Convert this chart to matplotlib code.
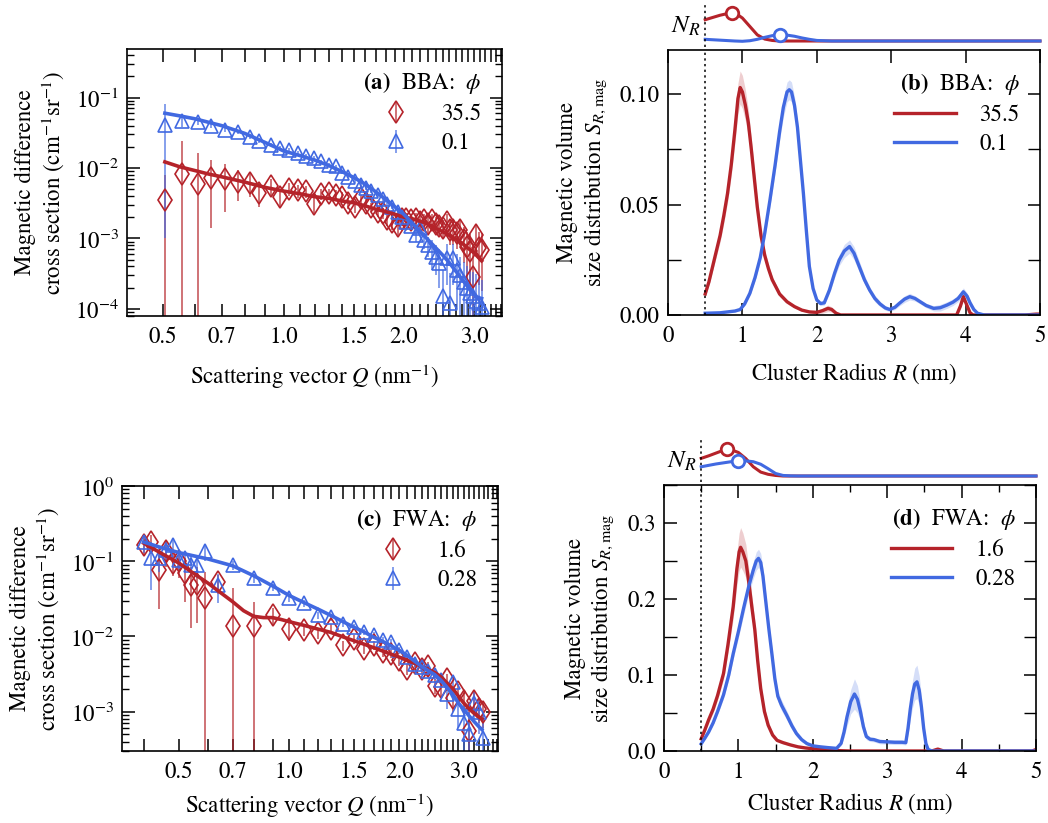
import numpy as np
import matplotlib
matplotlib.use('Agg')
import matplotlib.pyplot as plt
from matplotlib.ticker import FixedLocator, FuncFormatter, NullLocator, NullFormatter, LogLocator, MultipleLocator

plt.rcParams.update({
    'font.family': 'STIXGeneral',
    'mathtext.fontset': 'stix',
    'font.size': 16.5,
    'axes.linewidth': 1.2,
    'xtick.direction': 'in', 'ytick.direction': 'in',
    'xtick.top': True, 'ytick.right': True,
    'xtick.major.size': 9, 'ytick.major.size': 9,
    'xtick.minor.size': 5, 'ytick.minor.size': 5,
    'xtick.major.width': 1.1, 'ytick.major.width': 1.1,
    'xtick.minor.width': 1.0, 'ytick.minor.width': 1.0,
    'xtick.major.pad': 8, 'ytick.major.pad': 6,
})
RED = '#b5232a'
BLUE = '#4169e1'

# ---------------- panel (a): BBA scattering ----------------
Q_a = [0.505, 0.558, 0.610, 0.660, 0.714, 0.770, 0.825, 0.870, 0.930, 0.980,
       1.03, 1.09, 1.14, 1.19, 1.24, 1.30, 1.35, 1.40, 1.45, 1.51,
       1.56, 1.61, 1.66, 1.72, 1.77, 1.82, 1.87, 1.93, 1.98, 2.03,
       2.09, 2.14, 2.19, 2.24, 2.30, 2.35, 2.40, 2.45, 2.51, 2.56,
       2.61, 2.66, 2.72, 2.77, 2.82, 2.87, 2.93, 2.98, 3.03, 3.08, 3.13]
I_a_blue = [0.041, 0.046, 0.045, 0.040, 0.035, 0.032, 0.028, 0.024, 0.0215, 0.0195,
            0.018, 0.0165, 0.015, 0.014, 0.0125, 0.0112, 0.0105, 0.0086, 0.0075, 0.0066,
            0.0058, 0.0052, 0.0047, 0.0042, 0.0036, 0.0031, 0.0028, 0.0024, 0.0020, 0.0017,
            0.0015, 0.0011, 0.0014, 0.00095, 0.0008, 0.00065, 0.00055, 0.00045, 0.00015, 0.00052,
            0.00012, 0.00052, 0.00035, 0.0003, 0.00024, 0.0002, 0.00017, 0.00015, 0.00013, 0.00012, 0.000105]
E_a_blue = [0.040, 0.008, 0.004, 0.003, 0.0025, 0.002, 0.0018, 0.0015, 0.0013, 0.0012,
            0.0011, 0.001, 0.0009, 0.0008, 0.0007, 0.0006, 0.0006, 0.0005, 0.0004, 0.0004,
            0.00035, 0.0003, 0.0003, 0.00028, 0.00025, 0.00022, 0.0002, 0.0002, 0.00018, 0.00018,
            0.0002, 0.0002, 0.00025, 0.00025, 0.00025, 0.0003, 0.00025, 0.00025, 0.0002, 0.0003,
            0.0002, 0.0003, 0.00025, 0.00025, 0.00022, 0.0002, 0.0002, 0.00018, 0.00018, 0.00016, 0.00015]
I_a_red = [0.0035, 0.0082, 0.0059, 0.0072, 0.0069, 0.0064, 0.0062, 0.0044, 0.0055, 0.0039,
           0.0051, 0.0048, 0.0047, 0.0031, 0.0043, 0.0044, 0.0042, 0.0039, 0.0032, 0.0028,
           0.0037, 0.0032, 0.0028, 0.0024, 0.0023, 0.0019, 0.0017, 0.0015, 0.0019, 0.0019,
           0.0018, 0.0019, 0.0017, 0.0018, 0.0016, 0.0018, 0.0016, 0.0015, 0.0014, 0.0017,
           0.0013, 0.0013, 0.0012, 0.0013, 0.00095, 0.00075, 0.00066, 0.00028, 0.0011, 0.00072, 0.00068]
E_a_red = [0.0045, 0.0156, 0.0104, 0.0058, 0.0045, 0.003, 0.0023, 0.0016, 0.0014, 0.0012,
           0.0011, 0.001, 0.0009, 0.0008, 0.0008, 0.0007, 0.0007, 0.0006, 0.0006, 0.0005,
           0.0005, 0.0005, 0.0004, 0.0004, 0.0004, 0.0004, 0.0004, 0.0004, 0.0004, 0.0004,
           0.0004, 0.0004, 0.0004, 0.0004, 0.0004, 0.0004, 0.0004, 0.0004, 0.0004, 0.0005,
           0.0005, 0.0005, 0.0005, 0.0005, 0.0005, 0.0005, 0.0005, 0.0004, 0.0005, 0.0005, 0.0005]
Qfit_a_blue = [0.505, 0.55, 0.6, 0.7, 0.8, 0.9, 1.0, 1.1, 1.2, 1.3, 1.4, 1.5, 1.6, 1.7, 1.8,
               1.9, 2.0, 2.1, 2.2, 2.3, 2.4, 2.5, 2.6, 2.7, 2.8, 2.9, 3.0, 3.05, 3.13]
Ifit_a_blue = [0.060, 0.055, 0.050, 0.040, 0.031, 0.023, 0.0175, 0.0150, 0.0129, 0.0108, 0.0089,
               0.0073, 0.0059, 0.0046, 0.0036, 0.0028, 0.0022, 0.00165, 0.00125, 0.00095, 0.00074,
               0.00058, 0.00045, 0.00034, 0.00026, 0.0002, 0.00016, 0.000145, 0.00014]
Qfit_a_red = [0.505, 0.55, 0.6, 0.65, 0.7, 0.8, 0.9, 1.0, 1.1, 1.2, 1.3, 1.4, 1.5, 1.6, 1.7,
              1.8, 1.9, 2.0, 2.1, 2.2, 2.3, 2.4, 2.5, 2.6, 2.7, 2.8, 2.9, 3.0, 3.13]
Ifit_a_red = [0.0122, 0.0104, 0.0092, 0.0082, 0.0075, 0.0063, 0.0053, 0.0047, 0.0043, 0.0039,
              0.0037, 0.0034, 0.0032, 0.0029, 0.0026, 0.0024, 0.0022, 0.0020, 0.0019, 0.00175,
              0.0016, 0.0014, 0.00125, 0.0011, 0.00098, 0.00085, 0.00072, 0.00062, 0.00048]

# ---------------- panel (c): FWA scattering ----------------
Q_c = [0.40, 0.42, 0.44, 0.46, 0.48, 0.50, 0.52, 0.54, 0.56, 0.59,
       0.64, 0.70, 0.80, 0.90, 1.00,
       1.10, 1.20, 1.30, 1.40, 1.50, 1.60, 1.70, 1.80, 1.90, 2.00,
       2.10, 2.20, 2.30, 2.40, 2.50, 2.60, 2.70, 2.80, 2.90, 3.00,
       3.10, 3.20, 3.30, 3.38]
I_c_blue = [0.18, 0.112, 0.112, 0.142, 0.166, 0.104, 0.11, 0.089, 0.09, 0.135,
            0.048, 0.088, 0.059, 0.0446, 0.0326,
            0.0275, 0.019, 0.018, 0.0148, 0.0134, 0.0115, 0.0103, 0.0089, 0.0085, 0.0066,
            0.0053, 0.0043, 0.0039, 0.0035, 0.0031, 0.0026, 0.0017, 0.0025, 0.0011, 0.0007,
            0.0005, 0.0013, 0.001, 0.00045]
E_c_blue = [0.05, 0.07, 0.04, 0.05, 0.03, 0.03, 0.02, 0.025, 0.03, 0.035,
            0.02, 0.012, 0.008, 0.005, 0.004,
            0.003, 0.002, 0.0018, 0.0015, 0.0013, 0.0011, 0.001, 0.0009, 0.0008, 0.0007,
            0.0006, 0.0005, 0.0005, 0.0005, 0.0005, 0.0005, 0.0006, 0.0006, 0.0005, 0.0005,
            0.0005, 0.0005, 0.0005, 0.0005]
I_c_red = [0.166, 0.18, 0.076, 0.135, 0.094, 0.1, 0.069, 0.048, 0.05, 0.032,
           0.053, 0.0138, 0.0138, 0.019, 0.0127,
           0.012, 0.011, 0.0127, 0.0076, 0.0092, 0.0068, 0.0076, 0.0062, 0.0059, 0.0048,
           0.0037, 0.0045, 0.0037, 0.0041, 0.0022, 0.0021, 0.0027, 0.0015, 0.0018, 0.0014,
           0.00055, 0.0014, 0.0011, 0.0010]
E_c_red = [0.05, 0.04, 0.053, 0.05, 0.03, 0.04, 0.04, 0.035, 0.035, 0.041,
           0.012, 0.03, 0.015, 0.005, 0.004,
           0.002, 0.0018, 0.002, 0.0012, 0.0012, 0.001, 0.001, 0.0008, 0.0008, 0.0007,
           0.0006, 0.0006, 0.0005, 0.0005, 0.0005, 0.0005, 0.0005, 0.0005, 0.0005, 0.0005,
           0.0006, 0.0005, 0.0004, 0.0004]
Qfit_c_blue = [0.40, 0.45, 0.50, 0.60, 0.70, 0.80, 0.90, 1.0, 1.1, 1.2, 1.3, 1.4, 1.5, 1.6, 1.7,
               1.8, 1.9, 2.0, 2.1, 2.2, 2.3, 2.4, 2.5, 2.6, 2.7, 2.8, 2.9, 3.0, 3.1, 3.2, 3.3, 3.36]
Ifit_c_blue = [0.18, 0.15, 0.13, 0.107, 0.087, 0.064, 0.047, 0.035, 0.028, 0.023, 0.019, 0.0158,
               0.0133, 0.0115, 0.0098, 0.0086, 0.0075, 0.0065, 0.0056, 0.0047, 0.0040, 0.0035,
               0.0031, 0.0026, 0.0021, 0.0017, 0.0013, 0.00107, 0.00088, 0.00074, 0.00063, 0.00058]
Qfit_c_red = [0.40, 0.45, 0.50, 0.55, 0.60, 0.65, 0.70, 0.75, 0.80, 0.85, 0.90, 0.95, 1.0, 1.1,
              1.2, 1.3, 1.4, 1.5, 1.6, 1.7, 1.8, 1.9, 2.0, 2.1, 2.2, 2.3, 2.4, 2.5, 2.6, 2.7,
              2.8, 2.9, 3.0, 3.1, 3.2, 3.3, 3.36]
Ifit_c_red = [0.174, 0.125, 0.094, 0.068, 0.051, 0.038, 0.029, 0.022, 0.0185, 0.0178, 0.0178,
              0.0168, 0.0157, 0.014, 0.0125, 0.0113, 0.0099, 0.0088, 0.0079, 0.0071, 0.0064,
              0.0058, 0.0053, 0.0048, 0.0044, 0.0040, 0.0036, 0.0033, 0.0029, 0.0024, 0.0020,
              0.0016, 0.0013, 0.0011, 0.00095, 0.00085, 0.0008]

# ---------------- panel (b): BBA size distribution ----------------
R_b_red = [0.50, 0.55, 0.60, 0.65, 0.70, 0.75, 0.80, 0.85, 0.90, 0.94,
           0.97, 1.00, 1.04, 1.08, 1.12, 1.16, 1.20, 1.25, 1.30, 1.35,
           1.40, 1.50, 1.60, 1.70, 1.80, 1.90, 2.00, 2.08, 2.15, 2.20,
           2.26, 2.32, 3.88, 3.93, 3.97, 4.01, 4.06, 4.10, 4.80, 4.95, 5.00]
S_b_red = [0.0095, 0.015, 0.022, 0.029, 0.036, 0.045, 0.055, 0.068, 0.084, 0.098,
           0.103, 0.101, 0.095, 0.087, 0.075, 0.062, 0.049, 0.036, 0.027, 0.021,
           0.016, 0.0095, 0.006, 0.0038, 0.0022, 0.0014, 0.0012, 0.0020, 0.0030, 0.0025,
           0.0008, 0.0, 0.0, 0.004, 0.0083, 0.005, 0.001, 0.0, 0.0, 0.0004, 0.0004]
E_b_red = [0.001, 0.0015, 0.002, 0.0025, 0.003, 0.0035, 0.004, 0.005, 0.006, 0.007,
           0.0075, 0.0075, 0.007, 0.006, 0.005, 0.004, 0.0035, 0.003, 0.0025, 0.002,
           0.0015, 0.001, 0.0008, 0.0006, 0.0005, 0.0005, 0.0008, 0.0012, 0.0015, 0.0012,
           0.0006, 0.0, 0.0, 0.0008, 0.001, 0.0008, 0.0003, 0.0, 0.0, 0.0002, 0.0002]
R_b_blue = [0.50, 0.70, 0.90, 0.97, 1.03, 1.10, 1.17, 1.24, 1.30, 1.37,
            1.44, 1.50, 1.55, 1.60, 1.63, 1.66, 1.70, 1.74, 1.78, 1.82,
            1.86, 1.90, 1.95, 2.00, 2.05, 2.10, 2.17, 2.24, 2.30, 2.37,
            2.44, 2.50, 2.57, 2.64, 2.71, 2.78, 2.85, 2.92, 2.98, 3.05,
            3.11, 3.18, 3.25, 3.32, 3.39, 3.47, 3.57, 3.66, 3.75, 3.83,
            3.90, 3.97, 4.02, 4.06, 4.11, 4.16, 4.25, 5.00]
S_b_blue = [0.0008, 0.0010, 0.0018, 0.0025, 0.0050, 0.0098, 0.017, 0.026, 0.037, 0.052,
            0.068, 0.083, 0.094, 0.101, 0.102, 0.101, 0.095, 0.085, 0.070, 0.055,
            0.038, 0.022, 0.012, 0.0068, 0.0052, 0.0055, 0.0113, 0.019, 0.0248, 0.029,
            0.031, 0.028, 0.022, 0.016, 0.0113, 0.0075, 0.0050, 0.0032, 0.0025, 0.0035,
            0.0053, 0.0072, 0.0083, 0.0075, 0.0060, 0.0043, 0.0030, 0.0033, 0.0045, 0.0058,
            0.0075, 0.0105, 0.0085, 0.0055, 0.0025, 0.0008, 0.0, 0.0]
E_b_blue = [0.0003, 0.0003, 0.0005, 0.0006, 0.0008, 0.001, 0.0015, 0.002, 0.0025, 0.003,
            0.0035, 0.004, 0.0045, 0.0045, 0.0045, 0.0045, 0.004, 0.0035, 0.003, 0.0025,
            0.002, 0.0015, 0.0012, 0.001, 0.001, 0.001, 0.0015, 0.002, 0.0025, 0.003,
            0.003, 0.003, 0.0025, 0.002, 0.0015, 0.0015, 0.0012, 0.001, 0.001, 0.001,
            0.0012, 0.0015, 0.0015, 0.0012, 0.001, 0.001, 0.0012, 0.0015, 0.0015, 0.0015,
            0.0015, 0.0018, 0.0015, 0.001, 0.0006, 0.0003, 0.0, 0.0]

# ---------------- panel (d): FWA size distribution ----------------
R_d_red = [0.50, 0.55, 0.60, 0.66, 0.72, 0.80, 0.86, 0.93, 0.98, 1.01,
           1.03, 1.06, 1.10, 1.14, 1.18, 1.22, 1.26, 1.30, 1.35, 1.40,
           1.46, 1.52, 1.60, 1.70, 1.80, 1.90, 2.00, 2.20, 2.35, 2.50,
           3.60, 3.68, 3.76, 4.95, 5.00]
S_d_red = [0.016, 0.028, 0.041, 0.055, 0.073, 0.102, 0.14, 0.19, 0.24, 0.262,
           0.268, 0.262, 0.250, 0.222, 0.190, 0.160, 0.118, 0.082, 0.052, 0.034,
           0.021, 0.014, 0.011, 0.008, 0.0055, 0.004, 0.003, 0.0015, 0.0005, 0.0,
           0.0, 0.0025, 0.0, 0.0, 0.002]
E_d_red = [0.002, 0.003, 0.004, 0.005, 0.006, 0.008, 0.011, 0.016, 0.022, 0.025,
           0.026, 0.025, 0.022, 0.018, 0.015, 0.012, 0.01, 0.008, 0.006, 0.004,
           0.003, 0.002, 0.0015, 0.001, 0.001, 0.0008, 0.0006, 0.0004, 0.0002, 0.0,
           0.0, 0.0008, 0.0, 0.0, 0.0005]
R_d_blue = [0.50, 0.55, 0.60, 0.66, 0.72, 0.80, 0.87, 0.93, 1.00, 1.07,
            1.14, 1.20, 1.24, 1.27, 1.30, 1.33, 1.37, 1.41, 1.45, 1.49,
            1.53, 1.58, 1.65, 1.72, 1.78, 1.85, 1.92, 2.00, 2.10, 2.20,
            2.32, 2.38, 2.42, 2.46, 2.51, 2.56, 2.60, 2.64, 2.68, 2.72,
            2.77, 2.82, 2.90, 3.00, 3.10, 3.20, 3.25, 3.28, 3.31, 3.34,
            3.37, 3.40, 3.43, 3.46, 3.49, 3.52, 3.55, 3.60, 5.00]
S_d_blue = [0.0095, 0.017, 0.025, 0.037, 0.052, 0.074, 0.100, 0.128, 0.157, 0.188,
            0.217, 0.238, 0.250, 0.2535, 0.248, 0.230, 0.195, 0.160, 0.128, 0.095,
            0.072, 0.060, 0.047, 0.033, 0.023, 0.015, 0.0098, 0.0068, 0.0055, 0.0045,
            0.0035, 0.010, 0.025, 0.045, 0.065, 0.075, 0.068, 0.052, 0.032, 0.019,
            0.0155, 0.0150, 0.0125, 0.0120, 0.0115, 0.0115, 0.0110, 0.030, 0.055, 0.075,
            0.088, 0.091, 0.080, 0.058, 0.030, 0.010, 0.002, 0.0, 0.0]
E_d_blue = [0.001, 0.0015, 0.002, 0.003, 0.004, 0.005, 0.006, 0.007, 0.008, 0.009,
            0.010, 0.011, 0.012, 0.012, 0.012, 0.011, 0.010, 0.009, 0.008, 0.007,
            0.007, 0.007, 0.006, 0.005, 0.004, 0.003, 0.002, 0.0015, 0.001, 0.001,
            0.001, 0.003, 0.007, 0.012, 0.016, 0.020, 0.018, 0.012, 0.008, 0.004,
            0.003, 0.003, 0.003, 0.003, 0.003, 0.003, 0.003, 0.008, 0.014, 0.018,
            0.021, 0.022, 0.019, 0.014, 0.008, 0.003, 0.001, 0.0, 0.0]

# ---------------- N_R insets ----------------
R_nb_red = [0.5, 0.6, 0.7, 0.8, 0.86, 0.92, 1.0, 1.1, 1.2, 1.3, 1.4, 1.5, 1.7, 2.0, 5.0]
N_nb_red = [0.76, 0.84, 0.92, 0.98, 1.0, 0.97, 0.82, 0.52, 0.22, 0.07, 0.02, 0.0, 0.0, 0.0, 0.0]
R_nb_blue = [0.5, 0.7, 0.9, 1.0, 1.1, 1.2, 1.3, 1.4, 1.5, 1.6, 1.7, 1.8, 1.9, 2.0, 2.2, 5.0]
N_nb_blue = [0.06, 0.03, 0.0, -0.01, 0.01, 0.06, 0.13, 0.19, 0.22, 0.21, 0.17, 0.11, 0.06, 0.02, 0.0, 0.0]
Rpk_b = [0.86, 1.50]
Npk_b = [1.0, 0.22]
R_nd_red = [0.5, 0.6, 0.7, 0.8, 0.85, 0.9, 1.0, 1.1, 1.2, 1.3, 1.4, 1.5, 1.6, 5.0]
N_nd_red = [0.63, 0.72, 0.82, 0.92, 0.95, 0.94, 0.84, 0.62, 0.33, 0.14, 0.06, 0.02, 0.0, 0.0]
R_nd_blue = [0.5, 0.6, 0.7, 0.8, 0.9, 1.0, 1.1, 1.2, 1.3, 1.4, 1.5, 1.6, 1.7, 1.8, 5.0]
N_nd_blue = [0.33, 0.38, 0.43, 0.47, 0.51, 0.54, 0.54, 0.51, 0.42, 0.26, 0.09, 0.02, 0.005, 0.0, 0.0]
Rpk_d = [0.85, 1.0]
Npk_d = [0.95, 0.54]

R_min = 0.5
Q_labels = [0.5, 0.7, 1.0, 1.5, 2.0, 3.0]

W, H = 1048, 823
fig = plt.figure(figsize=(W / 100, H / 100), dpi=100)


def rect(left, top, right, bottom):
    return [left / W, 1 - bottom / H, (right - left) / W, (bottom - top) / H]


def style_log(ax, xlim, ylim, xpad):
    ax.set_xscale('log')
    ax.set_yscale('log')
    ax.set_xlim(*xlim)
    ax.set_ylim(*ylim)
    xt = [round(0.1 * k, 1) for k in range(3, 40)]
    ax.xaxis.set_major_locator(FixedLocator(xt))
    ax.xaxis.set_major_formatter(FuncFormatter(
        lambda v, p: f'{v:.1f}' if any(abs(v - q) < 1e-6 for q in Q_labels) else ''))
    ax.xaxis.set_minor_locator(NullLocator())
    ax.yaxis.set_major_locator(LogLocator(base=10, numticks=12))
    ax.yaxis.set_minor_locator(LogLocator(base=10, subs=np.arange(2, 10), numticks=12))
    ax.yaxis.set_minor_formatter(NullFormatter())
    ax.set_xlabel(r'Scattering vector $Q$ (nm$^{-1}$)', labelpad=xpad)
    ax.set_ylabel('Magnetic difference\ncross section (cm$^{-1}$sr$^{-1}$)', labelpad=6)


def scatter_panel(ax, Q, Ir, Er, Ib, Eb, Qfr, Ifr, Qfb, Ifb, labels, title):
    hr = ax.errorbar(Q, Ir, yerr=Er, fmt='d', mfc='none', mec=RED, ecolor=RED, ms=11.5,
                     mew=1.2, elinewidth=1.2, capsize=0, label=labels[0])
    hb = ax.errorbar(Q, Ib, yerr=Eb, fmt='^', mfc='none', mec=BLUE, ecolor=BLUE, ms=10.5,
                     mew=1.2, elinewidth=1.2, capsize=0, label=labels[1])
    for h in (hr, hb):
        h[2][0].set_alpha(0.75)
    ax.plot(Qfr, Ifr, color=RED, lw=2.6, zorder=5)
    ax.plot(Qfb, Ifb, color=BLUE, lw=2.6, zorder=5)
    ax.legend(handles=[hr, hb], loc='upper right', frameon=False, title=title,
              alignment='right', handletextpad=1.3, handlelength=1.3,
              labelspacing=0.35, borderaxespad=0.5)


def dist_panel(ax, Rr, Sr, Er, Rb, Sb, Eb, ylim, ymaj, ymin, fmt, labels, title, xpad):
    Rr, Sr, Er = map(np.asarray, (Rr, Sr, Er))
    Rb, Sb, Eb = map(np.asarray, (Rb, Sb, Eb))
    ax.fill_between(Rr, np.clip(Sr - Er, 0, None), Sr + Er, color=RED, alpha=0.22, lw=0)
    ax.fill_between(Rb, np.clip(Sb - Eb, 0, None), Sb + Eb, color=BLUE, alpha=0.22, lw=0)
    ax.plot(Rr, Sr, color=RED, lw=2.4, label=labels[0])
    ax.plot(Rb, Sb, color=BLUE, lw=2.4, label=labels[1])
    ax.axvline(R_min, color='k', ls=(0, (1.5, 2.2)), lw=1.1)
    ax.set_xlim(0, 5)
    ax.set_ylim(*ylim)
    ax.xaxis.set_major_locator(MultipleLocator(1))
    ax.yaxis.set_major_locator(MultipleLocator(ymaj))
    ax.yaxis.set_minor_locator(MultipleLocator(ymin))
    ax.yaxis.set_major_formatter(FuncFormatter(lambda v, p: fmt.format(v)))
    ax.tick_params(axis='y', which='minor', length=9)
    ax.set_xlabel(r'Cluster Radius $R$ (nm)', labelpad=xpad)
    ax.set_ylabel('Magnetic volume\nsize distribution $S_{R,\\mathrm{mag}}$', labelpad=8)
    ax.legend(loc='upper right', frameon=False, title=title, alignment='right',
              handlelength=2.7, handletextpad=1.0, labelspacing=0.35, borderaxespad=0.5)


def nr_inset(rc, Rr, Nr, Rb, Nb, Rpk, Npk):
    ax = fig.add_axes(rc)
    ax.set_xlim(0, 5)
    ax.set_ylim(-0.214, 1.464)
    ax.axis('off')
    ax.plot(Rr, Nr, color=RED, lw=2.2, clip_on=False)
    ax.plot(Rb, Nb, color=BLUE, lw=2.2, clip_on=False)
    ax.plot(Rpk[0], Npk[0], 'o', ms=9, mfc='white', mec=RED, mew=2, clip_on=False, zorder=5)
    ax.plot(Rpk[1], Npk[1], 'o', ms=9, mfc='white', mec=BLUE, mew=2, clip_on=False, zorder=5)
    ax.plot([R_min, R_min], [-0.214, 1.3], color='k', ls=(0, (1.5, 2.2)), lw=1.1, clip_on=False)
    ax.text(0.44, 0.5, r'$N_R$', ha='right', va='center', fontsize=18)
    return ax


# (a)
ax_a = fig.add_axes(rect(127, 49, 502, 316))
style_log(ax_a, (0.406, 3.52), (7.9e-5, 0.49), 10)
scatter_panel(ax_a, Q_a, I_a_red, E_a_red, I_a_blue, E_a_blue,
              Qfit_a_red, Ifit_a_red, Qfit_a_blue, Ifit_a_blue,
              ['35.5', '0.1'], r'$\mathbf{(a)}$  BBA:  $\phi$')

# (c)
ax_c = fig.add_axes(rect(122, 486, 498, 751))
style_log(ax_c, (0.349, 3.72), (3.0e-4, 1.0), 6)
scatter_panel(ax_c, Q_c, I_c_red, E_c_red, I_c_blue, E_c_blue,
              Qfit_c_red, Ifit_c_red, Qfit_c_blue, Ifit_c_blue,
              ['1.6', '0.28'], r'$\mathbf{(c)}$  FWA:  $\phi$')

# (b)
ax_b = fig.add_axes(rect(668, 50, 1040, 315))
dist_panel(ax_b, R_b_red, S_b_red, E_b_red, R_b_blue, S_b_blue, E_b_blue,
           (0, 0.12), 0.05, 0.025, '{:.2f}', ['35.5', '0.1'], r'$\mathbf{(b)}$  BBA:  $\phi$', 10)
nr_inset(rect(668, 0, 1040, 47), R_nb_red, N_nb_red, R_nb_blue, N_nb_blue, Rpk_b, Npk_b)

# (d)
ax_d = fig.add_axes(rect(664, 485, 1036, 751))
dist_panel(ax_d, R_d_red, S_d_red, E_d_red, R_d_blue, S_d_blue, E_d_blue,
           (0, 0.35), 0.1, 0.05, '{:.1f}', ['1.6', '0.28'], r'$\mathbf{(d)}$  FWA:  $\phi$', 6)
ax_d.xaxis.set_minor_locator(MultipleLocator(0.5))
nr_inset(rect(664, 435, 1036, 482), R_nd_red, N_nd_red, R_nd_blue, N_nd_blue, Rpk_d, Npk_d)

fig.savefig('out.png', dpi=100)
